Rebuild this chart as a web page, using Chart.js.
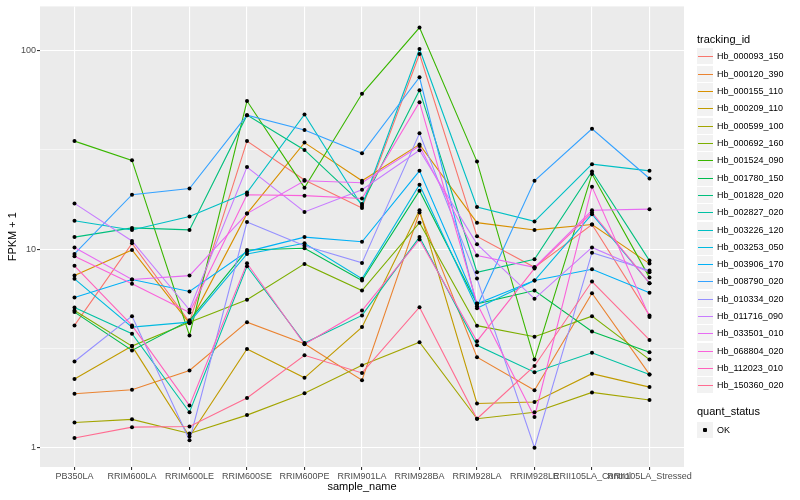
<!DOCTYPE html>
<html>
<head>
<meta charset="utf-8">
<title>FPKM + 1 by sample_name</title>
<script src="https://cdn.jsdelivr.net/npm/chart.js@4.4.1/dist/chart.umd.min.js"></script>
<style>
    body { margin: 0; background: #fff; font-family: "Liberation Sans", Arial, sans-serif; }
    #wrap { position: relative; width: 800px; height: 500px; }
    #chart { position: absolute; left: 0; top: 0; }
    .ltitle { position: absolute; left: 697px; font-size: 11px; color: #000; white-space: nowrap; }
    .key { position: absolute; left: 697px; width: 16px; height: 16px; background: #F2F2F2; }
    .key span { position: absolute; left: 1px; right: 0; top: 8px; height: 1px; }
    .key i { position: absolute; left: 6px; top: 6px; width: 4px; height: 4px; background: #000; border-radius: 1px; }
    .ltext { position: absolute; left: 717px; font-size: 9px; color: #000; white-space: nowrap; }
</style>
</head>
<body>
<div id="wrap">
    <canvas id="chart" width="800" height="500"></canvas>
    <div id="legend"></div>
</div>
<script>
// samples on the x axis
const samples = ['PB350LA', 'RRIM600LA', 'RRIM600LE', 'RRIM600SE', 'RRIM600PE', 'RRIM901LA',
    'RRIM928BA', 'RRIM928LA', 'RRIM928LE', 'RRII105LA_Control', 'RRII105LA_Stressed'];

const trackingIds = ['Hb_000093_150', 'Hb_000120_390', 'Hb_000155_110', 'Hb_000209_110', 'Hb_000599_100',
    'Hb_000692_160', 'Hb_001524_090', 'Hb_001780_150', 'Hb_001828_020', 'Hb_002827_020',
    'Hb_003226_120', 'Hb_003253_050', 'Hb_003906_170', 'Hb_008790_020', 'Hb_010334_020',
    'Hb_011716_090', 'Hb_033501_010', 'Hb_068804_020', 'Hb_112023_010', 'Hb_150360_020'];

const lineColours = ['#F8766D', '#EA8331', '#D89000', '#C09B00', '#A3A500', '#7CAE00', '#39B600',
    '#00BB4E', '#00BF7D', '#00C1A3', '#00BFC4', '#00BAE0', '#00B0F6', '#35A2FF', '#9590FF',
    '#C77CFF', '#E76BF3', '#FA62DB', '#FF62BC', '#FF6C91'];

// FPKM + 1, one array per tracking_id, in sample order
const hb000093_150 = [4.13, 10.7, 4.29, 35.0, 22.3, 16.1, 96.1, 11.6, 8.1, 13.3, 4.64];
const hb000120_390 = [1.87, 1.96, 2.45, 4.29, 3.34, 2.19, 15.3, 2.86, 1.95, 6.0, 2.34];
const hb000155_110 = [7.36, 9.9, 4.23, 15.1, 34.4, 22.1, 33.7, 13.6, 12.5, 13.3, 8.46];
const hb000209_110 = [2.22, 3.25, 1.14, 3.14, 2.25, 4.05, 15.7, 1.67, 1.70, 2.36, 2.02];
const hb000599_100 = [1.34, 1.39, 1.18, 1.46, 1.88, 2.60, 3.40, 1.40, 1.51, 1.90, 1.74];
const hb000692_160 = [4.91, 3.25, 4.29, 5.56, 8.43, 6.19, 13.6, 4.12, 3.62, 4.60, 2.78];
const hb001524_090 = [35.0, 28.0, 3.68, 55.7, 20.4, 60.6, 130.5, 27.6, 2.78, 23.9, 7.19];
const hb001780_150 = [4.82, 3.09, 4.38, 9.9, 10.1, 6.95, 19.7, 5.31, 6.19, 3.85, 3.03];
const hb001828_020 = [11.5, 12.8, 12.5, 47.3, 31.6, 16.9, 63.2, 7.65, 8.89, 24.6, 8.76];
const hb002827_020 = [5.09, 3.75, 1.51, 8.2, 3.37, 4.64, 11.5, 3.28, 2.40, 3.01, 2.34];
const hb003226_120 = [13.9, 12.5, 14.6, 19.3, 47.7, 16.5, 101.9, 16.3, 13.8, 26.8, 24.8];
const hb003253_050 = [7.09, 4.05, 4.29, 9.46, 10.7, 7.09, 21.1, 5.04, 6.95, 15.0, 6.74];
const hb003906_170 = [5.71, 7.03, 6.12, 9.72, 11.5, 10.9, 24.8, 5.31, 6.95, 7.92, 6.03];
const hb008790_020 = [9.46, 18.8, 20.2, 47.3, 39.8, 30.4, 73.4, 5.16, 22.1, 40.4, 22.7];
const hb010334_020 = [2.72, 4.60, 1.09, 13.7, 10.4, 8.53, 38.3, 7.11, 1.0, 9.60, 7.80];
const hb011716_090 = [17.0, 11.0, 4.95, 25.9, 15.4, 19.9, 31.5, 10.6, 5.62, 10.2, 7.65];
const hb033501_010 = [10.2, 7.03, 7.36, 15.1, 22.1, 21.6, 33.1, 9.28, 8.1, 15.7, 15.9];
const hb068804_020 = [9.2, 6.69, 4.80, 18.8, 18.6, 18.0, 55.0, 5.33, 1.43, 20.6, 4.55];
const hb112023_010 = [8.24, 4.13, 1.63, 8.49, 3.32, 4.91, 11.2, 3.44, 8.0, 15.3, 6.74];
const hb150360_020 = [1.12, 1.27, 1.28, 1.78, 2.92, 2.38, 5.10, 1.40, 2.58, 6.87, 3.49];

const seriesValues = [hb000093_150, hb000120_390, hb000155_110, hb000209_110, hb000599_100,
    hb000692_160, hb001524_090, hb001780_150, hb001828_020, hb002827_020,
    hb003226_120, hb003253_050, hb003906_170, hb008790_020, hb010334_020,
    hb011716_090, hb033501_010, hb068804_020, hb112023_010, hb150360_020];

// log10 axis: labelled breaks and the minor breaks between them
const yLabels = [1, 10, 100];
const yBreaks = [1, 3.1623, 10, 31.623, 100];
const quantStatus = ['OK'];

const FONT = '"Liberation Sans", Arial, sans-serif';

document.addEventListener('DOMContentLoaded', function() {
    const plotBackground = {
        id: 'plotBackground',
        beforeDraw(chart) {
            const { ctx, chartArea: a } = chart;
            ctx.save();
            ctx.fillStyle = '#EBEBEB';
            ctx.fillRect(a.left, a.top, a.right - a.left, a.bottom - a.top);
            ctx.restore();
        }
    };

    const isMajor = c => c.tick && yLabels.includes(c.tick.value);

    const lineSets = trackingIds.map((id, i) => ({
        type: 'line',
        label: id,
        data: seriesValues[i].map((v, j) => ({ x: j, y: v })),
        borderColor: lineColours[i],
        borderWidth: 1.1,
        pointRadius: 0,
        fill: false,
        tension: 0,
        order: trackingIds.length - i
    }));

    const pointSet = {
        type: 'scatter',
        label: quantStatus[0],
        data: seriesValues.flatMap(vals => vals.map((v, j) => ({ x: j, y: v }))),
        pointRadius: 2,
        pointBackgroundColor: '#000',
        pointBorderWidth: 0,
        showLine: false,
        order: -1
    };

    new Chart(document.getElementById('chart').getContext('2d'), {
        type: 'line',
        data: { datasets: lineSets.concat([pointSet]) },
        options: {
            responsive: false,
            devicePixelRatio: 1,
            animation: false,
            layout: { padding: { top: 5, right: 116, left: 0, bottom: 0 } },
            plugins: { legend: { display: false }, tooltip: { enabled: false } },
            scales: {
                x: {
                    type: 'linear',
                    min: -0.6,
                    max: 10.6,
                    afterBuildTicks: s => { s.ticks = samples.map((_, i) => ({ value: i })); },
                    afterFit: s => { s.height = 33; },
                    ticks: {
                        autoSkip: false,
                        maxRotation: 0,
                        color: '#4D4D4D',
                        font: { size: 9, family: FONT },
                        padding: 1,
                        callback: (v, i) => samples[i]
                    },
                    grid: { color: '#FFFFFF', lineWidth: 1.1, tickLength: 3, tickColor: '#333333' },
                    border: { display: false },
                    title: {
                        display: true, text: 'sample_name', color: '#000',
                        font: { size: 11, family: FONT }, padding: { top: 0, bottom: 6 }
                    }
                },
                y: {
                    type: 'logarithmic',
                    min: 0.8,
                    max: 166.9,
                    afterBuildTicks: s => { s.ticks = yBreaks.map(v => ({ value: v })); },
                    afterFit: s => { s.width = 40; },
                    ticks: {
                        color: '#4D4D4D',
                        font: { size: 9, family: FONT },
                        padding: 1,
                        callback: v => (yLabels.includes(v) ? String(v) : '')
                    },
                    grid: {
                        color: '#FFFFFF',
                        lineWidth: c => (isMajor(c) ? 1.1 : 0.55),
                        tickLength: 3,
                        tickColor: c => (isMajor(c) ? '#333333' : 'rgba(0,0,0,0)')
                    },
                    border: { display: false },
                    title: {
                        display: true, text: 'FPKM + 1', color: '#000',
                        font: { size: 11, family: FONT }, padding: { top: 6, bottom: 0 }
                    }
                }
            }
        },
        plugins: [plotBackground]
    });

    // legends, ggplot style, on the right
    let html = '<div class="ltitle" style="top:33px">tracking_id</div>';
    trackingIds.forEach((id, i) => {
        const cy = 56.7 + i * 17.33;
        html += '<div class="key" style="top:' + (cy - 8.5) + 'px"><span style="background:' + lineColours[i] + '"></span></div>';
        html += '<div class="ltext" style="top:' + (cy - 5.5) + 'px">' + id + '</div>';
    });
    html += '<div class="ltitle" style="top:405px">quant_status</div>';
    quantStatus.forEach((s, i) => {
        const cy = 430 + i * 17.33;
        html += '<div class="key" style="top:' + (cy - 8.5) + 'px"><i></i></div>';
        html += '<div class="ltext" style="top:' + (cy - 5.5) + 'px">' + s + '</div>';
    });
    document.getElementById('legend').innerHTML = html;
});
</script>
</body>
</html>
